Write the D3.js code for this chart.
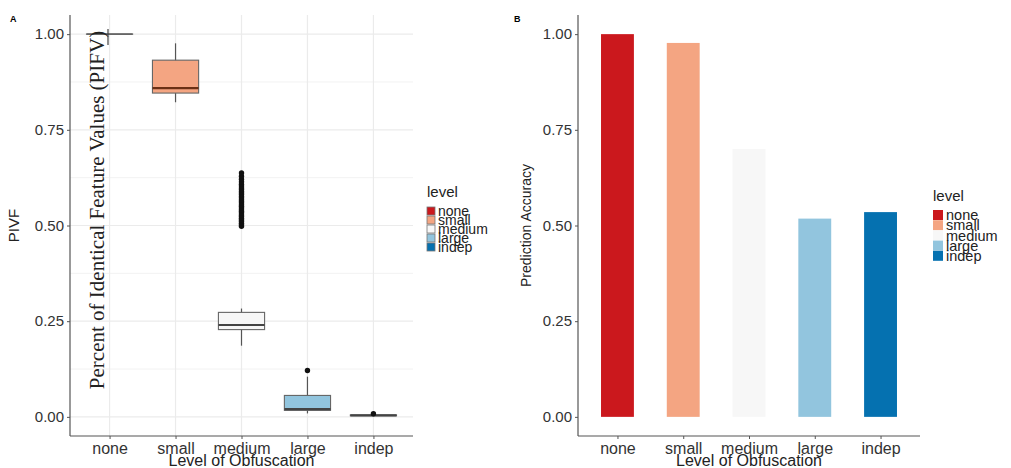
<!DOCTYPE html>
<html>
<head>
<meta charset="utf-8">
<script src="https://cdn.jsdelivr.net/npm/d3@7"></script>
<style>
  html, body { margin: 0; padding: 0; background: #fff; }
  svg { display: block; }
  text { font-family: "Liberation Sans", Arial, sans-serif; }
</style>
</head>
<body>
<svg id="chart" width="1011" height="468"></svg>
<script>
// Obfuscation levels and their fill colours
const levels = ["none", "small", "medium", "large", "indep"];
const levelColors = ["#cb181d", "#f4a582", "#f7f7f7", "#92c5de", "#0571b0"];
const yTicks = [0, 0.25, 0.5, 0.75, 1];

// Panel A: box-plot summaries of PIVF per level
const boxLow    = [1.000, 0.822, 0.186, 0.009, 0.002];
const boxQ1     = [1.000, 0.846, 0.228, 0.017, 0.003];
const boxMedian = [1.000, 0.859, 0.240, 0.020, 0.004];
const boxQ3     = [1.000, 0.932, 0.273, 0.056, 0.005];
const boxHigh   = [1.000, 0.976, 0.283, 0.105, 0.006];
const outlierLevel = ["medium","medium","medium","medium","medium","medium","medium","medium",
  "medium","medium","medium","medium","medium","medium","medium","medium","medium","medium",
  "medium","medium","medium","medium","medium","medium","medium","medium","medium","medium",
  "medium","medium","large","indep"];
const outlierValue = [0.498, 0.502, 0.506, 0.511, 0.515, 0.519, 0.524, 0.528, 0.533, 0.537,
  0.541, 0.546, 0.550, 0.554, 0.559, 0.563, 0.567, 0.572, 0.576, 0.581, 0.585, 0.589, 0.594,
  0.598, 0.603, 0.608, 0.614, 0.621, 0.629, 0.637, 0.121, 0.008];

// Panel B: prediction accuracy per level
const accuracy = [1.000, 0.977, 0.700, 0.518, 0.535];

const svg = d3.select("#chart");
const fmt = d3.format(".2f");
const color = d3.scaleOrdinal(levels, levelColors);

const yTop = 15, yBottom = 436;
const y = d3.scaleLinear().domain([-0.05, 1.05]).range([yBottom, yTop]);

function band(x0, x1) {
  // discrete axis with 0.6 units of padding on each side
  return d3.scalePoint().domain(levels).range([x0, x1]).padding(0.6);
}

function axes(g, x, x0, x1, yTitle, yTitleX, titleSize) {
  const ya = g.append("g").attr("transform", `translate(${x0},0)`)
    .call(d3.axisLeft(y).tickValues(yTicks).tickFormat(fmt).tickSize(3).tickPadding(3));
  ya.select(".domain").attr("d", `M0,${yTop}V${yBottom}`).attr("stroke", "#555").attr("stroke-width", 1.2);
  ya.selectAll(".tick line").attr("stroke", "#555");
  ya.selectAll(".tick text").attr("fill", "#333").style("font-size", "15px");

  const xa = g.append("g").attr("transform", `translate(0,${yBottom})`)
    .call(d3.axisBottom(x).tickSize(3).tickPadding(4));
  xa.select(".domain").attr("d", `M${x0},0H${x1}`).attr("stroke", "#555").attr("stroke-width", 1.2);
  xa.selectAll(".tick line").attr("stroke", "#555");
  xa.selectAll(".tick text").attr("fill", "#333").style("font-size", "16px");

  g.append("text").attr("x", (x0 + x1) / 2).attr("y", 466)
    .attr("text-anchor", "middle").attr("fill", "#222").style("font-size", "16px")
    .text("Level of Obfuscation");
  g.append("text").attr("transform", `translate(${yTitleX},${(yTop + yBottom) / 2}) rotate(-90)`)
    .attr("text-anchor", "middle").attr("fill", "#222").style("font-size", titleSize)
    .text(yTitle);
}

function legend(g, lx, ly, step, keySize, fontSize, boxed) {
  g.append("text").attr("x", lx).attr("y", ly).attr("fill", "#222")
    .style("font-size", "15px").text("level");
  levels.forEach((lv, i) => {
    const cy = ly + 14 + i * step;
    g.append("rect").attr("x", lx).attr("y", cy - keySize / 2)
      .attr("width", keySize).attr("height", keySize)
      .attr("fill", color(lv))
      .attr("stroke", boxed ? "#777" : "none").attr("stroke-width", boxed ? 0.8 : 0);
    g.append("text").attr("x", lx + keySize + 3).attr("y", cy + fontSize * 0.36)
      .attr("fill", "#222").style("font-size", fontSize + "px").text(lv);
  });
}

// ---------- Panel A ----------
const gA = svg.append("g");
const xA0 = 70, xA1 = 413;
const xA = band(xA0, xA1);
const stepA = xA.step();

// grid: minor and major horizontals, verticals at categories
const minorTicks = [0.125, 0.375, 0.625, 0.875];
gA.append("g").selectAll("line").data(minorTicks).join("line")
  .attr("x1", xA0).attr("x2", xA1).attr("y1", d => y(d)).attr("y2", d => y(d))
  .attr("stroke", "#f2f2f2").attr("stroke-width", 1);
gA.append("g").selectAll("line").data(yTicks).join("line")
  .attr("x1", xA0).attr("x2", xA1).attr("y1", d => y(d)).attr("y2", d => y(d))
  .attr("stroke", "#ebebeb").attr("stroke-width", 1.2);
gA.append("g").selectAll("line").data(levels).join("line")
  .attr("x1", d => xA(d)).attr("x2", d => xA(d)).attr("y1", yTop).attr("y2", yBottom)
  .attr("stroke", "#ebebeb").attr("stroke-width", 1.2);

const boxes = levels.map((lv, i) => ({
  lv, lo: boxLow[i], q1: boxQ1[i], med: boxMedian[i], q3: boxQ3[i], hi: boxHigh[i]
}));
const bw = stepA * 0.7;
const bg = gA.append("g").selectAll("g").data(boxes).join("g");
bg.append("line")
  .attr("x1", d => xA(d.lv)).attr("x2", d => xA(d.lv))
  .attr("y1", d => y(d.hi)).attr("y2", d => y(d.lo))
  .attr("stroke", "#555").attr("stroke-width", 1.2);
bg.append("rect")
  .attr("x", d => xA(d.lv) - bw / 2).attr("width", bw)
  .attr("y", d => y(d.q3)).attr("height", d => Math.max(0.01, y(d.q1) - y(d.q3)))
  .attr("fill", d => color(d.lv)).attr("stroke", "#666").attr("stroke-width", 1.1);
bg.append("line")
  .attr("x1", d => xA(d.lv) - bw / 2).attr("x2", d => xA(d.lv) + bw / 2)
  .attr("y1", d => y(d.med)).attr("y2", d => y(d.med))
  .attr("stroke", d => d.lv === "small" ? "#6b3015" : (d.lv === "none" ? "#666" : "#444"))
  .attr("stroke-width", d => d.lv === "none" ? 1.6 : 2.2);

gA.append("g").selectAll("circle").data(outlierValue).join("circle")
  .attr("cx", (d, i) => xA(outlierLevel[i])).attr("cy", d => y(d))
  .attr("r", 2.7).attr("fill", "#111");

axes(gA, xA, xA0, xA1, "PIVF", 19, "15px");

// overlaid serif caption
gA.append("text")
  .attr("transform", "translate(104,210) rotate(-90)")
  .attr("text-anchor", "middle")
  .style("font-family", "'Liberation Serif', 'Times New Roman', serif")
  .style("font-size", "21px").attr("fill", "#222")
  .text("Percent of Identical Feature Values (PIFV)");
gA.append("line").attr("x1", 108).attr("x2", 108).attr("y1", 29).attr("y2", 45)
  .attr("stroke", "#444").attr("stroke-width", 1.2);

gA.append("text").attr("x", 10).attr("y", 22).style("font-size", "9px")
  .style("font-weight", "bold").text("A");

legend(gA, 427, 197, 9, 8, 14, true);

// ---------- Panel B ----------
const gB = svg.append("g");
const xB0 = 578, xB1 = 920;
const xB = band(xB0, xB1);
const barW = xB.step() * 0.5;

gB.append("g").selectAll("rect").data(levels).join("rect")
  .attr("x", d => xB(d) - barW / 2).attr("width", barW)
  .attr("y", (d, i) => y(accuracy[i])).attr("height", (d, i) => y(0) - y(accuracy[i]))
  .attr("fill", d => color(d));

axes(gB, xB, xB0, xB1, "Prediction Accuracy", 531, "14px");

gB.append("text").attr("x", 514).attr("y", 22).style("font-size", "9px")
  .style("font-weight", "bold").text("B");

legend(gB, 933, 201, 10.2, 10, 14.5, false);
</script>
</body>
</html>
